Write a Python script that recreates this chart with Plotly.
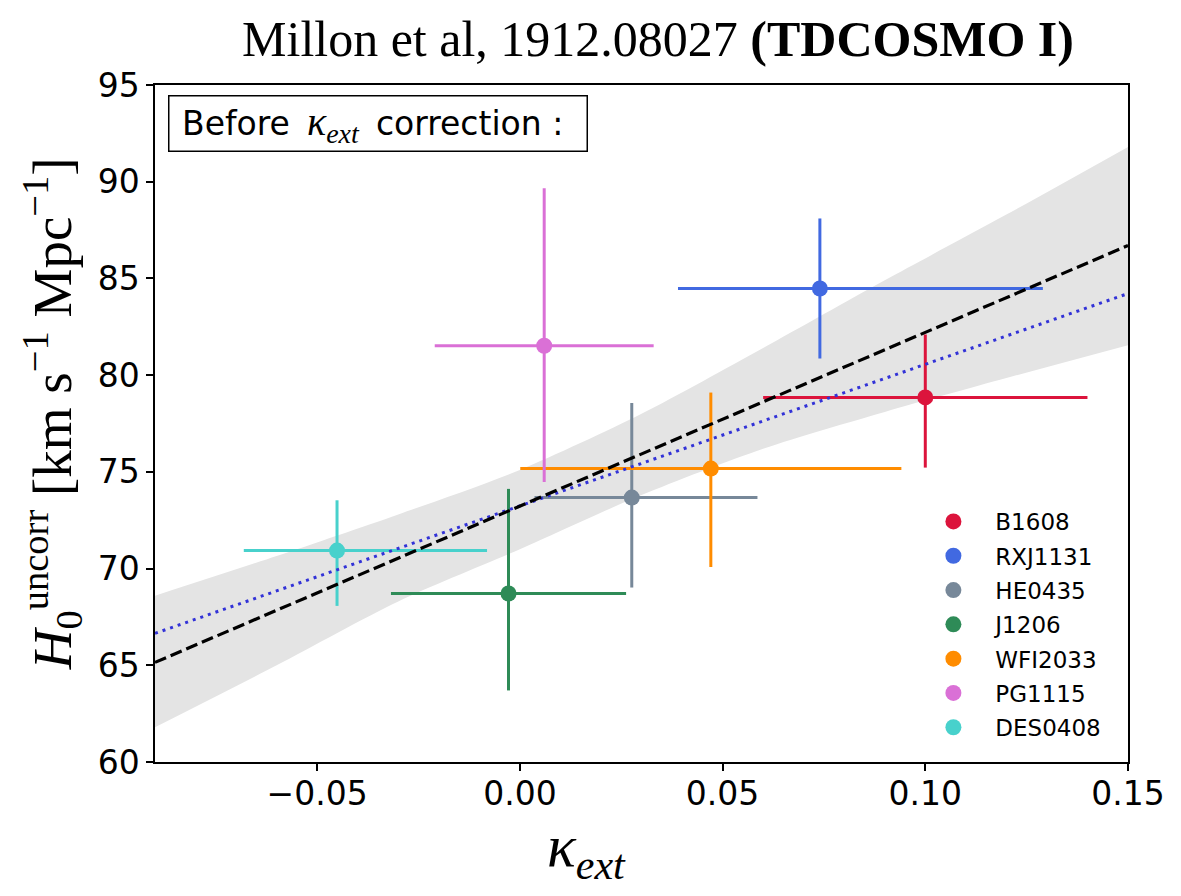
import plotly.graph_objects as go

# ---- data ----
lens_names = ["B1608", "RXJ1131", "HE0435", "J1206", "WFI2033", "PG1115", "DES0408"]
lens_colors = ["#DC143C", "#4169E1", "#778899", "#2E8B57", "#FF8C00", "#DA70D6", "#48D1CC"]
kappa = [0.100, 0.074, 0.0276, -0.0028, 0.0471, 0.006, -0.0451]
kappa_err_plus = [0.040, 0.055, 0.031, 0.029, 0.047, 0.027, 0.037]
kappa_err_minus = [0.040, 0.035, 0.024, 0.029, 0.047, 0.027, 0.023]
h0 = [78.85, 84.48, 73.67, 68.71, 75.17, 81.52, 70.93]
h0_err_plus = [3.25, 3.62, 4.89, 5.41, 3.93, 8.14, 2.60]
h0_err_minus = [3.63, 3.62, 4.65, 5.01, 5.09, 7.04, 2.86]

fit_x = [-0.09, 0.15]
fit_dashed_y = [65.15, 86.70]
fit_dotted_y = [66.65, 84.22]

band_x = [-0.09, -0.06, -0.03, 0.0, 0.03, 0.06, 0.09, 0.12, 0.15]
band_lo = [61.8, 65.0, 68.3, 71.0, 73.8, 76.2, 78.1, 79.85, 81.55]
band_hi = [68.6, 70.65, 72.8, 75.1, 78.0, 81.4, 84.9, 88.3, 91.8]

x_ticks = [-0.05, 0.0, 0.05, 0.10, 0.15]
x_ticklabels = ["\u22120.05", "0.00", "0.05", "0.10", "0.15"]
y_ticks = [60, 65, 70, 75, 80, 85, 90, 95]

fig = go.Figure()

# confidence band
fig.add_trace(go.Scatter(x=band_x, y=band_hi, mode="lines",
                         line=dict(width=0, shape="spline", smoothing=0.8),
                         showlegend=False, hoverinfo="skip"))
fig.add_trace(go.Scatter(x=band_x, y=band_lo, mode="lines",
                         line=dict(width=0, shape="spline", smoothing=0.8),
                         fill="tonexty", fillcolor="rgb(228,228,228)",
                         showlegend=False, hoverinfo="skip"))

NB = "\u00a0"
# data points
for i, name in enumerate(lens_names):
    fig.add_trace(go.Scatter(
        x=[kappa[i]], y=[h0[i]], mode="markers", name=NB * 3 + name,
        legendgroup=name,
        marker=dict(color=lens_colors[i], size=16),
        error_x=dict(type="data", symmetric=False, array=[kappa_err_plus[i]],
                     arrayminus=[kappa_err_minus[i]], color=lens_colors[i],
                     thickness=3, width=0),
        error_y=dict(type="data", symmetric=False, array=[h0_err_plus[i]],
                     arrayminus=[h0_err_minus[i]], color=lens_colors[i],
                     thickness=3, width=0),
    ))

# fit lines
fig.add_trace(go.Scatter(x=fit_x, y=fit_dotted_y, mode="lines", showlegend=False,
                         line=dict(color="rgb(50,50,215)", width=3, dash="3px,5px")))
fig.add_trace(go.Scatter(x=fit_x, y=fit_dashed_y, mode="lines", showlegend=False,
                         line=dict(color="black", width=3.2, dash="12px,5px")))

axis_common = dict(showline=True, linecolor="black", linewidth=1.5, mirror=True,
                   ticks="outside", ticklen=7, tickwidth=1.5, tickcolor="black",
                   showgrid=False, zeroline=False,
                   tickfont=dict(family="DejaVu Sans", size=33, color="black"))

fig.update_layout(
    width=1181, height=896,
    paper_bgcolor="white", plot_bgcolor="white",
    margin=dict(l=155, r=53, t=85, b=134),
    title=dict(
        text="Millon et al, 1912.08027 <b>(TDCOSMO I)</b>",
        font=dict(family="Liberation Serif", size=50, color="black"),
        x=658 / 1181, xanchor="center", xref="container",
        y=1 - 38 / 896, yanchor="middle", yref="container"),
    xaxis=dict(range=[-0.09, 0.15], tickvals=x_ticks, ticktext=x_ticklabels,
               ticklabelstandoff=-5, **axis_common),
    yaxis=dict(range=[60, 95], tickvals=y_ticks, **axis_common),
    legend=dict(x=0.80, y=0.387, xanchor="left", yanchor="top",
                font=dict(family="DejaVu Sans", size=23, color="black"),
                bgcolor="rgba(0,0,0,0)", tracegroupgap=1.4, itemsizing="trace"),
    showlegend=True,
)

# y-axis title
fig.add_annotation(
    xref="paper", yref="paper", x=-0.106, y=0.515, xanchor="center", yanchor="middle",
    textangle=-90, showarrow=False,
    text="<i>H</i><sub>0</sub><sup>uncorr</sup> [km s<sup>\u22121</sup> Mpc<sup>\u22121</sup>]",
    font=dict(family="Liberation Serif", size=55, color="black"))

# x-axis title
fig.add_annotation(
    xref="paper", yref="paper", x=(586 - 155) / 973, y=-0.13, xanchor="center", yanchor="middle",
    showarrow=False,
    text="<i>\u03ba<sub>ext</sub></i>",
    font=dict(family="Liberation Serif", size=60, color="black"))

# boxed label
fig.add_annotation(
    xref="paper", yref="paper", x=(168 - 155) / 973, y=(762 - 95) / 677,
    xanchor="left", yanchor="top", showarrow=False,
    text=(NB + "Before \u2009<span style=\"font-family:'Liberation Serif';font-size:40px\">"
          "<i>\u03ba<sub>ext</sub></i></span> \u2009correction :" + NB + NB),
    font=dict(family="DejaVu Sans", size=33, color="black"),
    bordercolor="black", borderwidth=1.5, borderpad=2, bgcolor="white")

fig.write_html("out.html")
